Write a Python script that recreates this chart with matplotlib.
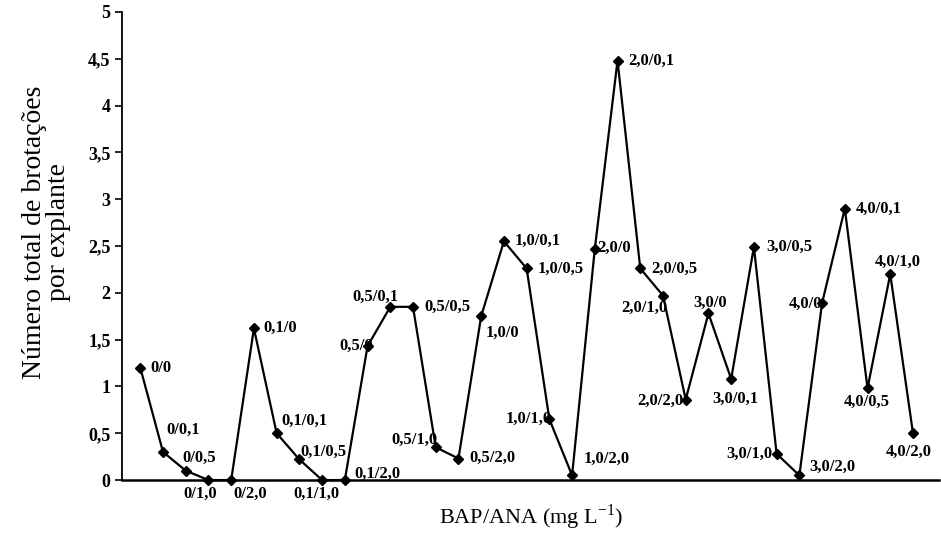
import numpy as np
from matplotlib import pyplot as plt

# BAP/ANA combinations (mg/L) and total shoots per explant
labels = ['0/0', '0/0,1', '0/0,5', '0/1,0', '0/2,0',
          '0,1/0', '0,1/0,1', '0,1/0,5', '0,1/1,0', '0,1/2,0',
          '0,5/0', '0,5/0,1', '0,5/0,5', '0,5/1,0', '0,5/2,0',
          '1,0/0', '1,0/0,1', '1,0/0,5', '1,0/1,0', '1,0/2,0',
          '2,0/0', '2,0/0,1', '2,0/0,5', '2,0/1,0', '2,0/2,0',
          '3,0/0', '3,0/0,1', '3,0/0,5', '3,0/1,0', '3,0/2,0',
          '4,0/0', '4,0/0,1', '4,0/0,5', '4,0/1,0', '4,0/2,0']
brotacoes = [1.2, 0.3, 0.1, 0.0, 0.0,
             1.62, 0.5, 0.22, 0.0, 0.0,
             1.43, 1.85, 1.85, 0.35, 0.23,
             1.75, 2.55, 2.26, 0.65, 0.05,
             2.47, 4.48, 2.26, 1.97, 0.86,
             1.78, 1.08, 2.49, 0.28, 0.05,
             1.89, 2.9, 0.98, 2.2, 0.5]
yticks      = [0, 0.5, 1, 1.5, 2, 2.5, 3, 3.5, 4, 4.5, 5]
ytick_names = ['0', '0,5', '1', '1,5', '2', '2,5', '3', '3,5', '4', '4,5', '5']

# label placement (pixels from the point, alignment)
lbl_pos = [(10, 0, 'left'), (3, 22, 'left'), (-3, 13, 'left'), (-8, -14, 'center'), (2, -14, 'left'),
           (9, 0, 'left'), (5, 12, 'left'), (1, 8, 'left'), (-6, -14, 'center'), (10, 6, 'left'),
           (5, 0, 'right'), (-15, 10, 'center'), (11, 0, 'left'), (2, 7, 'right'), (11, 1, 'left'),
           (4, -17, 'left'), (11, 0, 'left'), (11, 0, 'left'), (2, 0, 'right'), (12, 17, 'left'),
           (2, 1, 'left'), (11, 0, 'left'), (11, 0, 'left'), (4, -12, 'right'), (-2, -1, 'right'),
           (2, 11, 'center'), (4, -20, 'center'), (12, 0, 'left'), (-4, 0, 'right'), (10, 9, 'left'),
           (0, -1, 'right'), (11, 0, 'left'), (-1, -14, 'center'), (7, 12, 'center'), (-4, -19, 'center')]

plt.rcParams['font.family'] = ['Liberation Serif', 'DejaVu Serif']

x = np.arange(len(brotacoes))

fig = plt.figure(figsize=(9.41, 5.4), dpi=100)
ax = fig.add_axes([0.13, 0.111, 0.868, 0.867])

ax.plot(x, brotacoes, color='black', lw=1.6, marker='D', ms=5, mfc='black', mec='black', clip_on=False)

for i, txt in enumerate(labels):
    dx, dy, ha = lbl_pos[i]
    ax.annotate(txt, (x[i], brotacoes[i]), xytext=(dx, dy), textcoords='offset pixels',
                ha=ha, va='center', fontsize=12, fontweight='bold')

ax.set_xlim(-0.79, 35.15)
ax.set_ylim(0, 5)
ax.set_xticks([])
ax.set_yticks(yticks)
ax.set_yticklabels(ytick_names, fontsize=13, fontweight='bold')
ax.tick_params(axis='y', direction='out', length=5, width=1.2)
ax.spines['top'].set_visible(False)
ax.spines['right'].set_visible(False)
ax.spines['left'].set_linewidth(1.3)
ax.spines['bottom'].set_linewidth(1.8)

ax.set_ylabel("Número total de brotações\npor explante", fontsize=20, linespacing=0.95)
ax.yaxis.set_label_coords(-0.063, 0.53)
ax.set_xlabel("BAP/ANA (mg L$^{\\mathregular{-1}}$)", fontsize=16, labelpad=16)

fig.savefig('out.png', dpi=100)
